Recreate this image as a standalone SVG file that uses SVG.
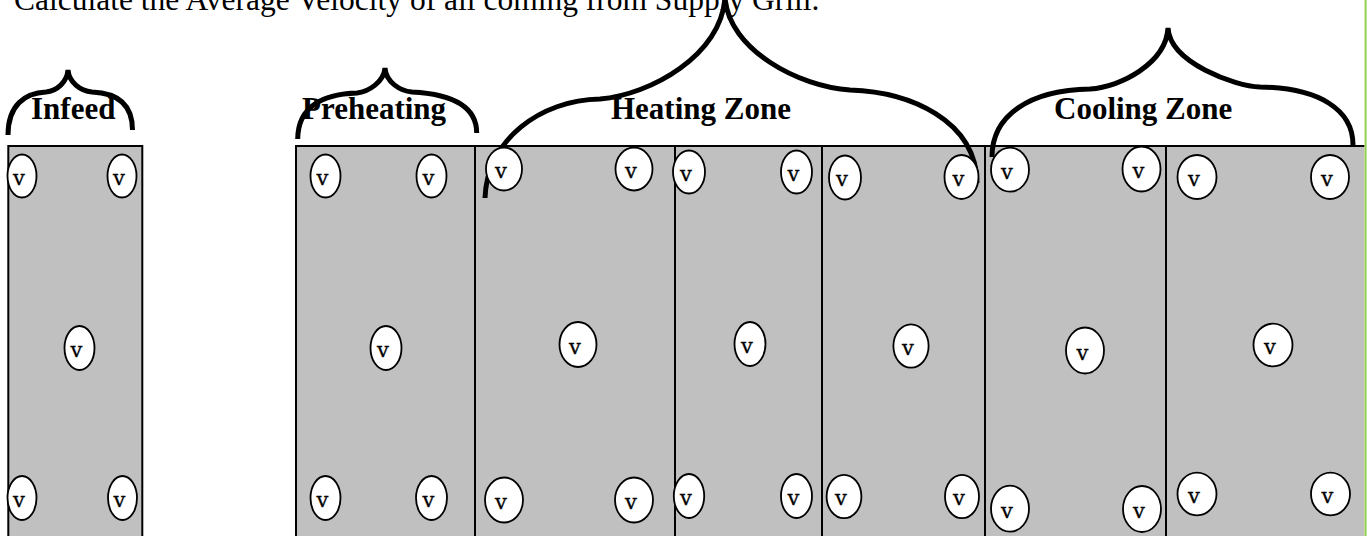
<svg xmlns="http://www.w3.org/2000/svg" width="1370" height="536" viewBox="0 0 1370 536">
<style>
.box{fill:#c0c0c0;stroke:#000;stroke-width:2}
.s{fill:#fff;stroke:#000;stroke-width:1.8}
.v{font-family:"DejaVu Serif",serif;font-size:21px;text-anchor:middle;fill:#000;stroke:#000;stroke-width:0.3}
.lbl{font-family:"Liberation Serif","Times New Roman",serif;font-size:31px;font-weight:bold;fill:#000}
.title{font-family:"Liberation Serif","Times New Roman",serif;font-size:31.5px;fill:#000}
.brace{fill:none;stroke:#000;stroke-width:5;stroke-linecap:butt}
</style>
<rect width="1370" height="536" fill="#fff"/>
<text class="title" x="14" y="10">Calculate the Average Velocity of all coming from Supply Grill.</text>

<g id="zone-boxes">
<rect class="box" x="8.3" y="146" width="134" height="395"/>
<rect class="box" x="296" y="146" width="179" height="395"/>
<rect class="box" x="475" y="146" width="200" height="395"/>
<rect class="box" x="675" y="146" width="147" height="395"/>
<rect class="box" x="822" y="146" width="163" height="395"/>
<rect class="box" x="985" y="146" width="181" height="395"/>
<path d="M1166,541 V146 H1364.5" fill="#c0c0c0" stroke="#000" stroke-width="2"/>
<rect x="1167" y="147" width="197.5" height="395" fill="#c0c0c0"/>
<line x1="1365.6" y1="0" x2="1365.6" y2="536" stroke="#92d050" stroke-width="2"/>
</g>

<g id="labels">
<text class="lbl" x="31" y="119">Infeed</text>
<text class="lbl" x="302" y="119">Preheating</text>
<text class="lbl" x="611" y="119">Heating Zone</text>
<text class="lbl" x="1054" y="119">Cooling Zone</text>
</g>

<g id="braces">
<path class="brace" d="M8,135 C8,105 25,93 46,92 C57,91 67,82 68,70 C69,82 80,91 92,92 C118,93 132.5,105 132.5,130"/>
<path class="brace" d="M297.7,139 C298,105 325,94 357,93 C368,92 384,82 385,68 C386,82 400,91 412,92 C450,94 476.7,105 476.7,133"/>
<path class="brace" d="M485,198 C487,140 540,100 600,99 C650,95 722,55 725,-3 C728,50 800,87 850,90 C910,92 976,120 977,183"/>
<path class="brace" d="M992,157 C992,115 1030,90 1090,89 C1121,87 1166,63 1168,28 C1170,63 1235,86 1260,87 C1320,88 1353,110 1353,145"/>
</g>

<g id="infeed">
<ellipse class="s" cx="22" cy="176" rx="14.5" ry="21.5"/><text class="v" x="19" y="184.5">v</text>
<ellipse class="s" cx="122" cy="176" rx="14.5" ry="21.5"/><text class="v" x="119" y="184.5">v</text>
<ellipse class="s" cx="79.5" cy="348" rx="15" ry="22"/><text class="v" x="76.5" y="356.5">v</text>
<ellipse class="s" cx="22" cy="498" rx="14.5" ry="22"/><text class="v" x="19" y="506.5">v</text>
<ellipse class="s" cx="122.5" cy="498" rx="14.5" ry="22"/><text class="v" x="119.5" y="506.5">v</text>
</g>
<g id="preheating">
<ellipse class="s" cx="325.5" cy="176" rx="15" ry="21.5"/><text class="v" x="322.5" y="184.5">v</text>
<ellipse class="s" cx="431.5" cy="176" rx="15" ry="21.5"/><text class="v" x="428.5" y="184.5">v</text>
<ellipse class="s" cx="386" cy="348" rx="15.5" ry="22"/><text class="v" x="383" y="356.5">v</text>
<ellipse class="s" cx="325.5" cy="498" rx="15" ry="22"/><text class="v" x="322.5" y="506.5">v</text>
<ellipse class="s" cx="431.5" cy="498" rx="15.5" ry="22"/><text class="v" x="428.5" y="506.5">v</text>
</g>
<g id="heating-1">
<ellipse class="s" cx="504" cy="169" rx="18" ry="21.5"/><text class="v" x="501" y="177.5">v</text>
<ellipse class="s" cx="634" cy="169" rx="18.5" ry="21.5"/><text class="v" x="631" y="177.5">v</text>
<ellipse class="s" cx="578" cy="344.5" rx="18.5" ry="22.5"/><text class="v" x="575" y="353.5">v</text>
<ellipse class="s" cx="504" cy="500" rx="19" ry="22.5"/><text class="v" x="501" y="509">v</text>
<ellipse class="s" cx="634" cy="500" rx="19" ry="22.5"/><text class="v" x="631" y="509">v</text>
</g>
<g id="heating-2">
<ellipse class="s" cx="689" cy="172" rx="16" ry="21.5"/><text class="v" x="686" y="180.5">v</text>
<ellipse class="s" cx="796.5" cy="172" rx="15.5" ry="21.5"/><text class="v" x="793.5" y="180.5">v</text>
<ellipse class="s" cx="750" cy="344" rx="15.5" ry="22"/><text class="v" x="747" y="352.5">v</text>
<ellipse class="s" cx="689" cy="496" rx="15.2" ry="22"/><text class="v" x="686" y="504.5">v</text>
<ellipse class="s" cx="796.5" cy="496" rx="15.5" ry="22"/><text class="v" x="793.5" y="504.5">v</text>
</g>
<g id="heating-3">
<ellipse class="s" cx="845" cy="177.5" rx="16" ry="22"/><text class="v" x="842" y="186">v</text>
<ellipse class="s" cx="961.5" cy="177" rx="17" ry="22"/><text class="v" x="958.5" y="185.5">v</text>
<ellipse class="s" cx="911" cy="346" rx="17.6" ry="21.7"/><text class="v" x="908" y="354.5">v</text>
<ellipse class="s" cx="844" cy="496.5" rx="17.4" ry="21.7"/><text class="v" x="841" y="505">v</text>
<ellipse class="s" cx="962" cy="496.5" rx="17" ry="21.7"/><text class="v" x="959" y="505">v</text>
</g>
<g id="cooling-1">
<ellipse class="s" cx="1010" cy="169.7" rx="19" ry="22"/><text class="v" x="1007" y="178.5">v</text>
<ellipse class="s" cx="1141.5" cy="169" rx="19" ry="22.5"/><text class="v" x="1138.5" y="178">v</text>
<ellipse class="s" cx="1085" cy="350.5" rx="19" ry="23"/><text class="v" x="1082.5" y="359.5">v</text>
<ellipse class="s" cx="1010" cy="508.7" rx="19" ry="23"/><text class="v" x="1007" y="517.5">v</text>
<ellipse class="s" cx="1142" cy="509" rx="19" ry="23"/><text class="v" x="1139" y="518">v</text>
</g>
<g id="cooling-2">
<ellipse class="s" cx="1197" cy="177" rx="19.5" ry="22"/><text class="v" x="1194" y="186">v</text>
<ellipse class="s" cx="1330" cy="177" rx="19" ry="22"/><text class="v" x="1327" y="186">v</text>
<ellipse class="s" cx="1273" cy="345" rx="19.5" ry="21.3"/><text class="v" x="1270" y="353.5">v</text>
<ellipse class="s" cx="1197" cy="494" rx="19.5" ry="21.3"/><text class="v" x="1194" y="502.5">v</text>
<ellipse class="s" cx="1330.5" cy="494" rx="19.5" ry="21.3"/><text class="v" x="1327.5" y="502.5">v</text>
</g>
</svg>
